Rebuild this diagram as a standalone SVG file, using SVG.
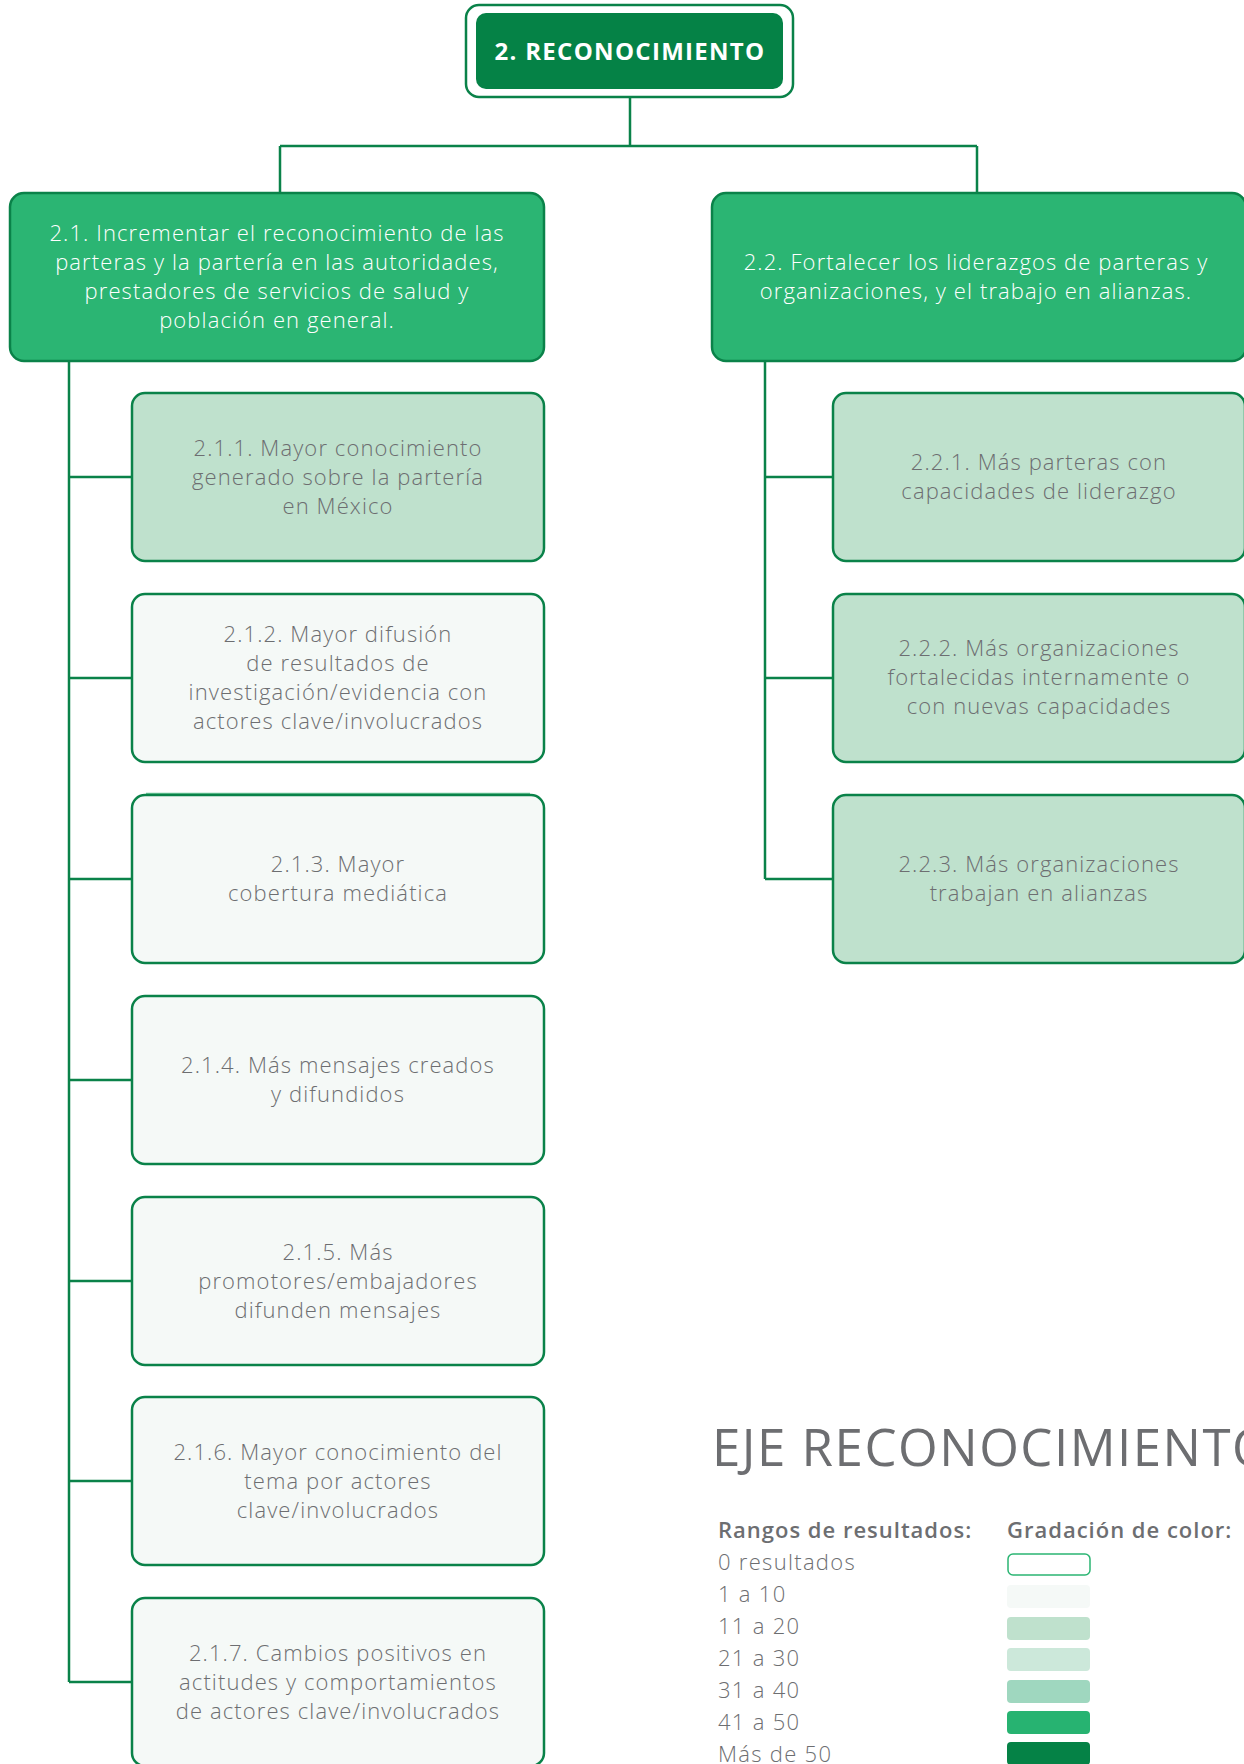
<svg xmlns="http://www.w3.org/2000/svg" width="1244" height="1764" viewBox="0 0 1244 1764">
<style>
  .conn { fill: none; stroke: #0a8249; stroke-width: 2.5; }
  .box { stroke: #0a8249; stroke-width: 2.5; }
  .hdr { fill: #2bb573; }
  .lg { fill: #bfe1cd; }
  .vl { fill: #f5f9f7; }
  .t { font-family: "Open Sans", Lato, sans-serif; font-size: 22px; letter-spacing: 1.1px; text-anchor: middle; fill: #6d6e71; font-weight: 300; }
  .tw { fill: #ffffff; }
  .leg { font-family: "Open Sans", Lato, sans-serif; font-size: 22px; letter-spacing: 1.3px; fill: #6d6e71; font-weight: 300; }
  .legh { font-weight: 600; letter-spacing: 1px; }
</style>

<g id="connectors">
  <path class="conn" d="M630,97 V146 M280,146 H977 M280,146 V193 M977,146 V193"/>
  <path class="conn" d="M69,361 V1682 M69,477 H132 M69,678 H132 M69,879 H132 M69,1080 H132 M69,1281 H132 M69,1481 H132 M69,1682 H132"/>
  <path class="conn" d="M765,361 V879 M765,477 H833 M765,678 H833 M765,879 H833"/>
</g>

<g id="n2">
  <rect x="466" y="5" width="327" height="92" rx="13" fill="#ffffff" class="box"/>
  <rect x="476" y="13" width="307" height="76" rx="10" fill="#058246"/>
  <text x="630" y="60" font-family="'Open Sans', Lato, sans-serif" font-size="24" font-weight="700" letter-spacing="1.3" text-anchor="middle" fill="#ffffff">2. RECONOCIMIENTO</text>
</g>

<g id="n2_1">
  <rect x="10" y="193" width="534" height="168" rx="14" class="box hdr"/>
  <text class="t tw"><tspan x="277" y="241">2.1. Incrementar el reconocimiento de las</tspan><tspan x="277" y="270">parteras y la partería en las autoridades,</tspan><tspan x="277" y="299">prestadores de servicios de salud  y</tspan><tspan x="277" y="328">población en general.</tspan></text>
</g>

<g id="n2_2">
  <rect x="712" y="193" width="534" height="168" rx="14" class="box hdr"/>
  <text class="t tw"><tspan x="976" y="270">2.2. Fortalecer los liderazgos de parteras y</tspan><tspan x="976" y="299">organizaciones,  y el trabajo en alianzas.</tspan></text>
</g>

<g id="n2_1_1">
  <rect x="132" y="393" width="412" height="168" rx="13" class="box lg"/>
  <text class="t"><tspan x="338" y="456">2.1.1. Mayor conocimiento</tspan><tspan x="338" y="485">generado sobre la partería</tspan><tspan x="338" y="514">en México</tspan></text>
</g>

<g id="n2_1_2">
  <rect x="132" y="594" width="412" height="168" rx="13" class="box vl"/>
  <text class="t"><tspan x="338" y="642">2.1.2. Mayor difusión</tspan><tspan x="338" y="671">de resultados de</tspan><tspan x="338" y="700">investigación/evidencia con</tspan><tspan x="338" y="729">actores clave/involucrados</tspan></text>
</g>

<g id="n2_1_3">
  <path d="M146,793.5 H530" fill="none" stroke="#6fc79a" stroke-width="1.5"/>
  <rect x="132" y="795" width="412" height="168" rx="13" class="box vl"/>
  <text class="t"><tspan x="338" y="872">2.1.3. Mayor</tspan><tspan x="338" y="901">cobertura mediática</tspan></text>
</g>

<g id="n2_1_4">
  <rect x="132" y="996" width="412" height="168" rx="13" class="box vl"/>
  <text class="t"><tspan x="338" y="1073">2.1.4. Más mensajes creados</tspan><tspan x="338" y="1102">y difundidos</tspan></text>
</g>

<g id="n2_1_5">
  <rect x="132" y="1197" width="412" height="168" rx="13" class="box vl"/>
  <text class="t"><tspan x="338" y="1260">2.1.5. Más</tspan><tspan x="338" y="1289">promotores/embajadores</tspan><tspan x="338" y="1318">difunden mensajes</tspan></text>
</g>

<g id="n2_1_6">
  <rect x="132" y="1397" width="412" height="168" rx="13" class="box vl"/>
  <text class="t"><tspan x="338" y="1460">2.1.6. Mayor conocimiento del</tspan><tspan x="338" y="1489">tema por actores</tspan><tspan x="338" y="1518">clave/involucrados</tspan></text>
</g>

<g id="n2_1_7">
  <rect x="132" y="1598" width="412" height="168" rx="13" class="box vl"/>
  <text class="t"><tspan x="338" y="1661">2.1.7. Cambios positivos en</tspan><tspan x="338" y="1690">actitudes y comportamientos</tspan><tspan x="338" y="1719">de actores clave/involucrados</tspan></text>
</g>

<g id="n2_2_1">
  <rect x="833" y="393" width="412" height="168" rx="13" class="box lg"/>
  <text class="t"><tspan x="1039" y="470">2.2.1. Más parteras con</tspan><tspan x="1039" y="499">capacidades de liderazgo</tspan></text>
</g>

<g id="n2_2_2">
  <rect x="833" y="594" width="412" height="168" rx="13" class="box lg"/>
  <text class="t"><tspan x="1039" y="656">2.2.2. Más organizaciones</tspan><tspan x="1039" y="685">fortalecidas internamente o</tspan><tspan x="1039" y="714">con nuevas capacidades</tspan></text>
</g>

<g id="n2_2_3">
  <rect x="833" y="795" width="412" height="168" rx="13" class="box lg"/>
  <text class="t"><tspan x="1039" y="872">2.2.3. Más organizaciones</tspan><tspan x="1039" y="901">trabajan en alianzas</tspan></text>
</g>

<g id="legend">
  <text x="712" y="1466" font-family="'Open Sans', Lato, sans-serif" font-size="51" font-weight="500" letter-spacing="1.5" fill="#6d6e71">EJE RECONOCIMIENTO</text>
  <text class="leg legh" x="718" y="1538">Rangos de resultados:</text>
  <text class="leg legh" x="1007" y="1538">Gradación de color:</text>
  <text class="leg" x="718" y="1570">0 resultados</text>
  <text class="leg" x="718" y="1602">1 a 10</text>
  <text class="leg" x="718" y="1634">11 a 20</text>
  <text class="leg" x="718" y="1666">21 a 30</text>
  <text class="leg" x="718" y="1698">31 a 40</text>
  <text class="leg" x="718" y="1730">41 a 50</text>
  <text class="leg" x="718" y="1762">Más de 50</text>
  <rect x="1008" y="1554" width="82" height="21" rx="5" fill="#ffffff" stroke="#2bb573" stroke-width="1.5"/>
  <rect x="1007" y="1585" width="83" height="23" rx="4" fill="#f5f9f7"/>
  <rect x="1007" y="1617" width="83" height="23" rx="4" fill="#bfe1cd"/>
  <rect x="1007" y="1648" width="83" height="23" rx="4" fill="#cce8da"/>
  <rect x="1007" y="1680" width="83" height="23" rx="4" fill="#9fd7bf"/>
  <rect x="1007" y="1711" width="83" height="23" rx="4" fill="#27b371"/>
  <rect x="1007" y="1742" width="83" height="23" rx="4" fill="#058246"/>
</g>
</svg>
